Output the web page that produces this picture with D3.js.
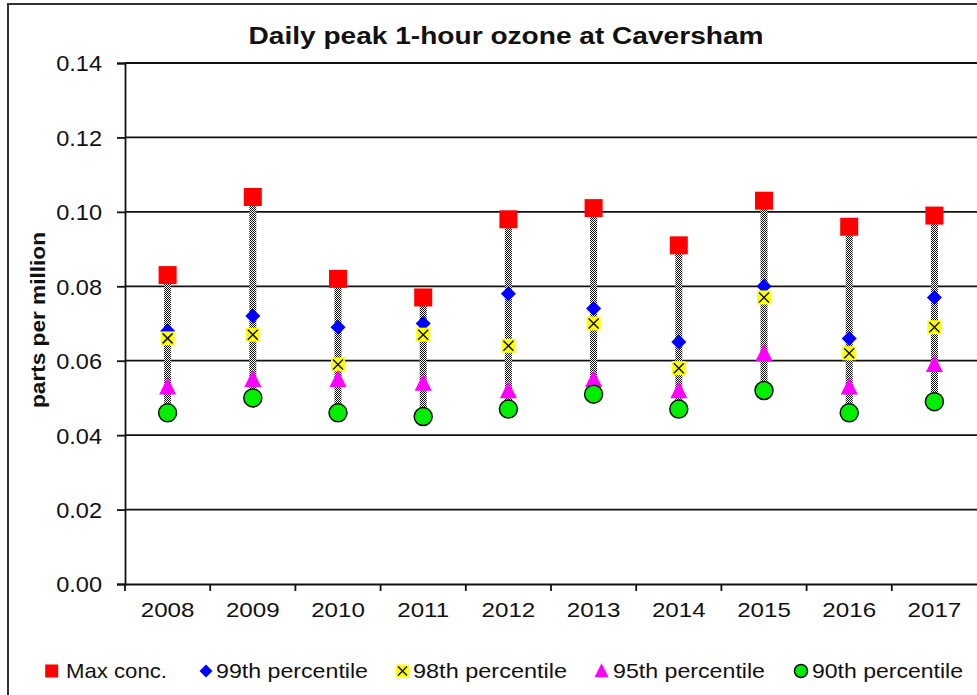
<!DOCTYPE html>
<html><head><meta charset="utf-8">
<script src="https://cdn.jsdelivr.net/npm/d3@7/dist/d3.min.js"></script>
<style>body{margin:0;background:#fff}svg{display:block}text{font-family:"Liberation Sans",Arial,sans-serif}</style>
</head><body><svg id="c" width="977" height="695"></svg>
<script>
const years = ["2008","2009","2010","2011","2012","2013","2014","2015","2016","2017"];
const maxConc = [0.083,0.104,0.082,0.077,0.098,0.101,0.091,0.103,0.096,0.099];
const p99 = [0.068,0.072,0.069,0.070,0.078,0.074,0.065,0.080,0.066,0.077];
const p98 = [0.066,0.067,0.059,0.067,0.064,0.070,0.058,0.077,0.062,0.069];
const p95 = [0.053,0.055,0.055,0.054,0.052,0.055,0.052,0.062,0.053,0.059];
const p90 = [0.046,0.050,0.046,0.045,0.047,0.051,0.047,0.052,0.046,0.049];
const yTicks = [0,0.02,0.04,0.06,0.08,0.10,0.12,0.14];
const seriesNames = ["Max conc.","99th percentile","98th percentile","95th percentile","90th percentile"];

const svg = d3.select("#c");
const L=125, R=977, T=63, B=584;
const x = d3.scaleBand().domain(years).range([L,R]);
const y = d3.scaleLinear().domain([0,0.14]).range([B,T]);

function stretch(sel, k){
  sel.each(function(){
    const w = this.getComputedTextLength();
    d3.select(this).attr("textLength", w*k).attr("lengthAdjust","spacingAndGlyphs");
  });
}

const defs = svg.append("defs");
const pat = defs.append("pattern").attr("id","chk").attr("width",2).attr("height",2).attr("patternUnits","userSpaceOnUse");
pat.append("rect").attr("width",2).attr("height",2).attr("fill","#fff");
pat.append("rect").attr("width",1).attr("height",1).attr("fill","#111");
pat.append("rect").attr("x",1).attr("y",1).attr("width",1).attr("height",1).attr("fill","#111");

// outer border
svg.append("rect").attr("x",8).attr("y",4).attr("width",1000).attr("height",720).attr("fill","none").attr("stroke","#333").attr("stroke-width",2);

// title
svg.append("text").attr("x",506).attr("y",44).attr("text-anchor","middle").attr("font-size",23).attr("font-weight","bold")
  .attr("fill","#111").attr("textLength",515).attr("lengthAdjust","spacingAndGlyphs").text("Daily peak 1-hour ozone at Caversham");

// gridlines
svg.append("g").selectAll("line").data(yTicks.filter(d=>d>0)).join("line")
  .attr("x1",L).attr("x2",R).attr("y1",d=>y(d)).attr("y2",d=>y(d)).attr("stroke","#111").attr("stroke-width",1.8);

// y axis
const ya = svg.append("g").attr("transform",`translate(${L},0)`).call(d3.axisLeft(y).tickValues(yTicks).tickFormat(d3.format(".2f")).tickSize(8).tickPadding(15));
ya.select(".domain").attr("stroke","#111").attr("stroke-width",1.8);
ya.selectAll(".tick line").attr("stroke","#111").attr("stroke-width",1.8);
ya.selectAll("text").attr("font-size",22).attr("fill","#111").attr("font-family","Liberation Sans, Arial, sans-serif").attr("dy","0.36em");
stretch(ya.selectAll("text"), 1.07);

// x axis
const xa = svg.append("g").attr("transform",`translate(0,${B})`).call(d3.axisBottom(x).tickSize(0).tickPadding(18));
xa.select(".domain").attr("stroke","#111").attr("stroke-width",1.8);
xa.selectAll("text").attr("font-size",21).attr("fill","#111").attr("font-family","Liberation Sans, Arial, sans-serif").attr("dy","0.71em").attr("y",18);
stretch(xa.selectAll("text"), 1.15);
svg.append("g").selectAll("line").data(years).join("line")
  .attr("x1",d=>x(d)).attr("x2",d=>x(d)).attr("y1",B).attr("y2",B+7).attr("stroke","#111").attr("stroke-width",1.8);

// y title
svg.append("text").attr("transform","translate(45,320) rotate(-90)").attr("text-anchor","middle").attr("font-size",20).attr("font-weight","bold")
  .attr("fill","#111").attr("textLength",176).attr("lengthAdjust","spacingAndGlyphs").text("parts per million");

const cx = d=>x(d)+x.bandwidth()/2;
// hi-lo lines
svg.append("g").selectAll("rect").data(years).join("rect")
  .attr("x",(d)=>cx(d)-3.5).attr("width",7)
  .attr("y",(d,i)=>y(maxConc[i])).attr("height",(d,i)=>y(p90[i])-y(maxConc[i]))
  .attr("fill","url(#chk)");

function drawMarker(g, type, px, py, s){
  if(type==="sq") g.append("rect").attr("x",px-s/2).attr("y",py-s/2).attr("width",s).attr("height",s).attr("fill","#ff0000");
  else if(type==="dia") g.append("path").attr("d",`M${px},${py-s/2}L${px+s/2},${py}L${px},${py+s/2}L${px-s/2},${py}Z`).attr("fill","#0000ff");
  else if(type==="x"){
    g.append("rect").attr("x",px-s/2).attr("y",py-s/2).attr("width",s).attr("height",s).attr("fill","#ffff00");
    const k=s/2-2;
    g.append("path").attr("d",`M${px-k},${py-k}L${px+k},${py+k}M${px-k},${py+k}L${px+k},${py-k}`).attr("stroke","#111").attr("stroke-width",1.5);
  }
  else if(type==="tri") g.append("path").attr("d",`M${px},${py-s*0.55}L${px+s/2},${py+s*0.45}L${px-s/2},${py+s*0.45}Z`).attr("fill","#ff00ff");
  else if(type==="circ") g.append("circle").attr("cx",px).attr("cy",py).attr("r",s/2).attr("fill","#00ee00").attr("stroke","#111").attr("stroke-width",1.5);
}
const series = [[maxConc,"sq",18],[p99,"dia",15],[p98,"x",14],[p95,"tri",17],[p90,"circ",18]];
series.forEach(([vals,type,s])=>{
  const g = svg.append("g");
  years.forEach((yr,i)=>drawMarker(g,type,cx(yr),y(vals[i]),s));
});

// legend
const legX = [51.7,206,402.5,601.5,801];
const legTextX = [66,216,413,613,812];
const legW = [101,152,154,152,151];
const legTypes = [["sq",13],["dia",13],["x",13],["tri",14],["circ",13]];
const lg = svg.append("g");
seriesNames.forEach((n,i)=>{
  drawMarker(lg,legTypes[i][0],legX[i],671,legTypes[i][1]);
  lg.append("text").attr("x",legTextX[i]).attr("y",678).attr("font-size",21).attr("fill","#111")
    .attr("textLength",legW[i]).attr("lengthAdjust","spacingAndGlyphs").text(n);
});
</script></body></html>
